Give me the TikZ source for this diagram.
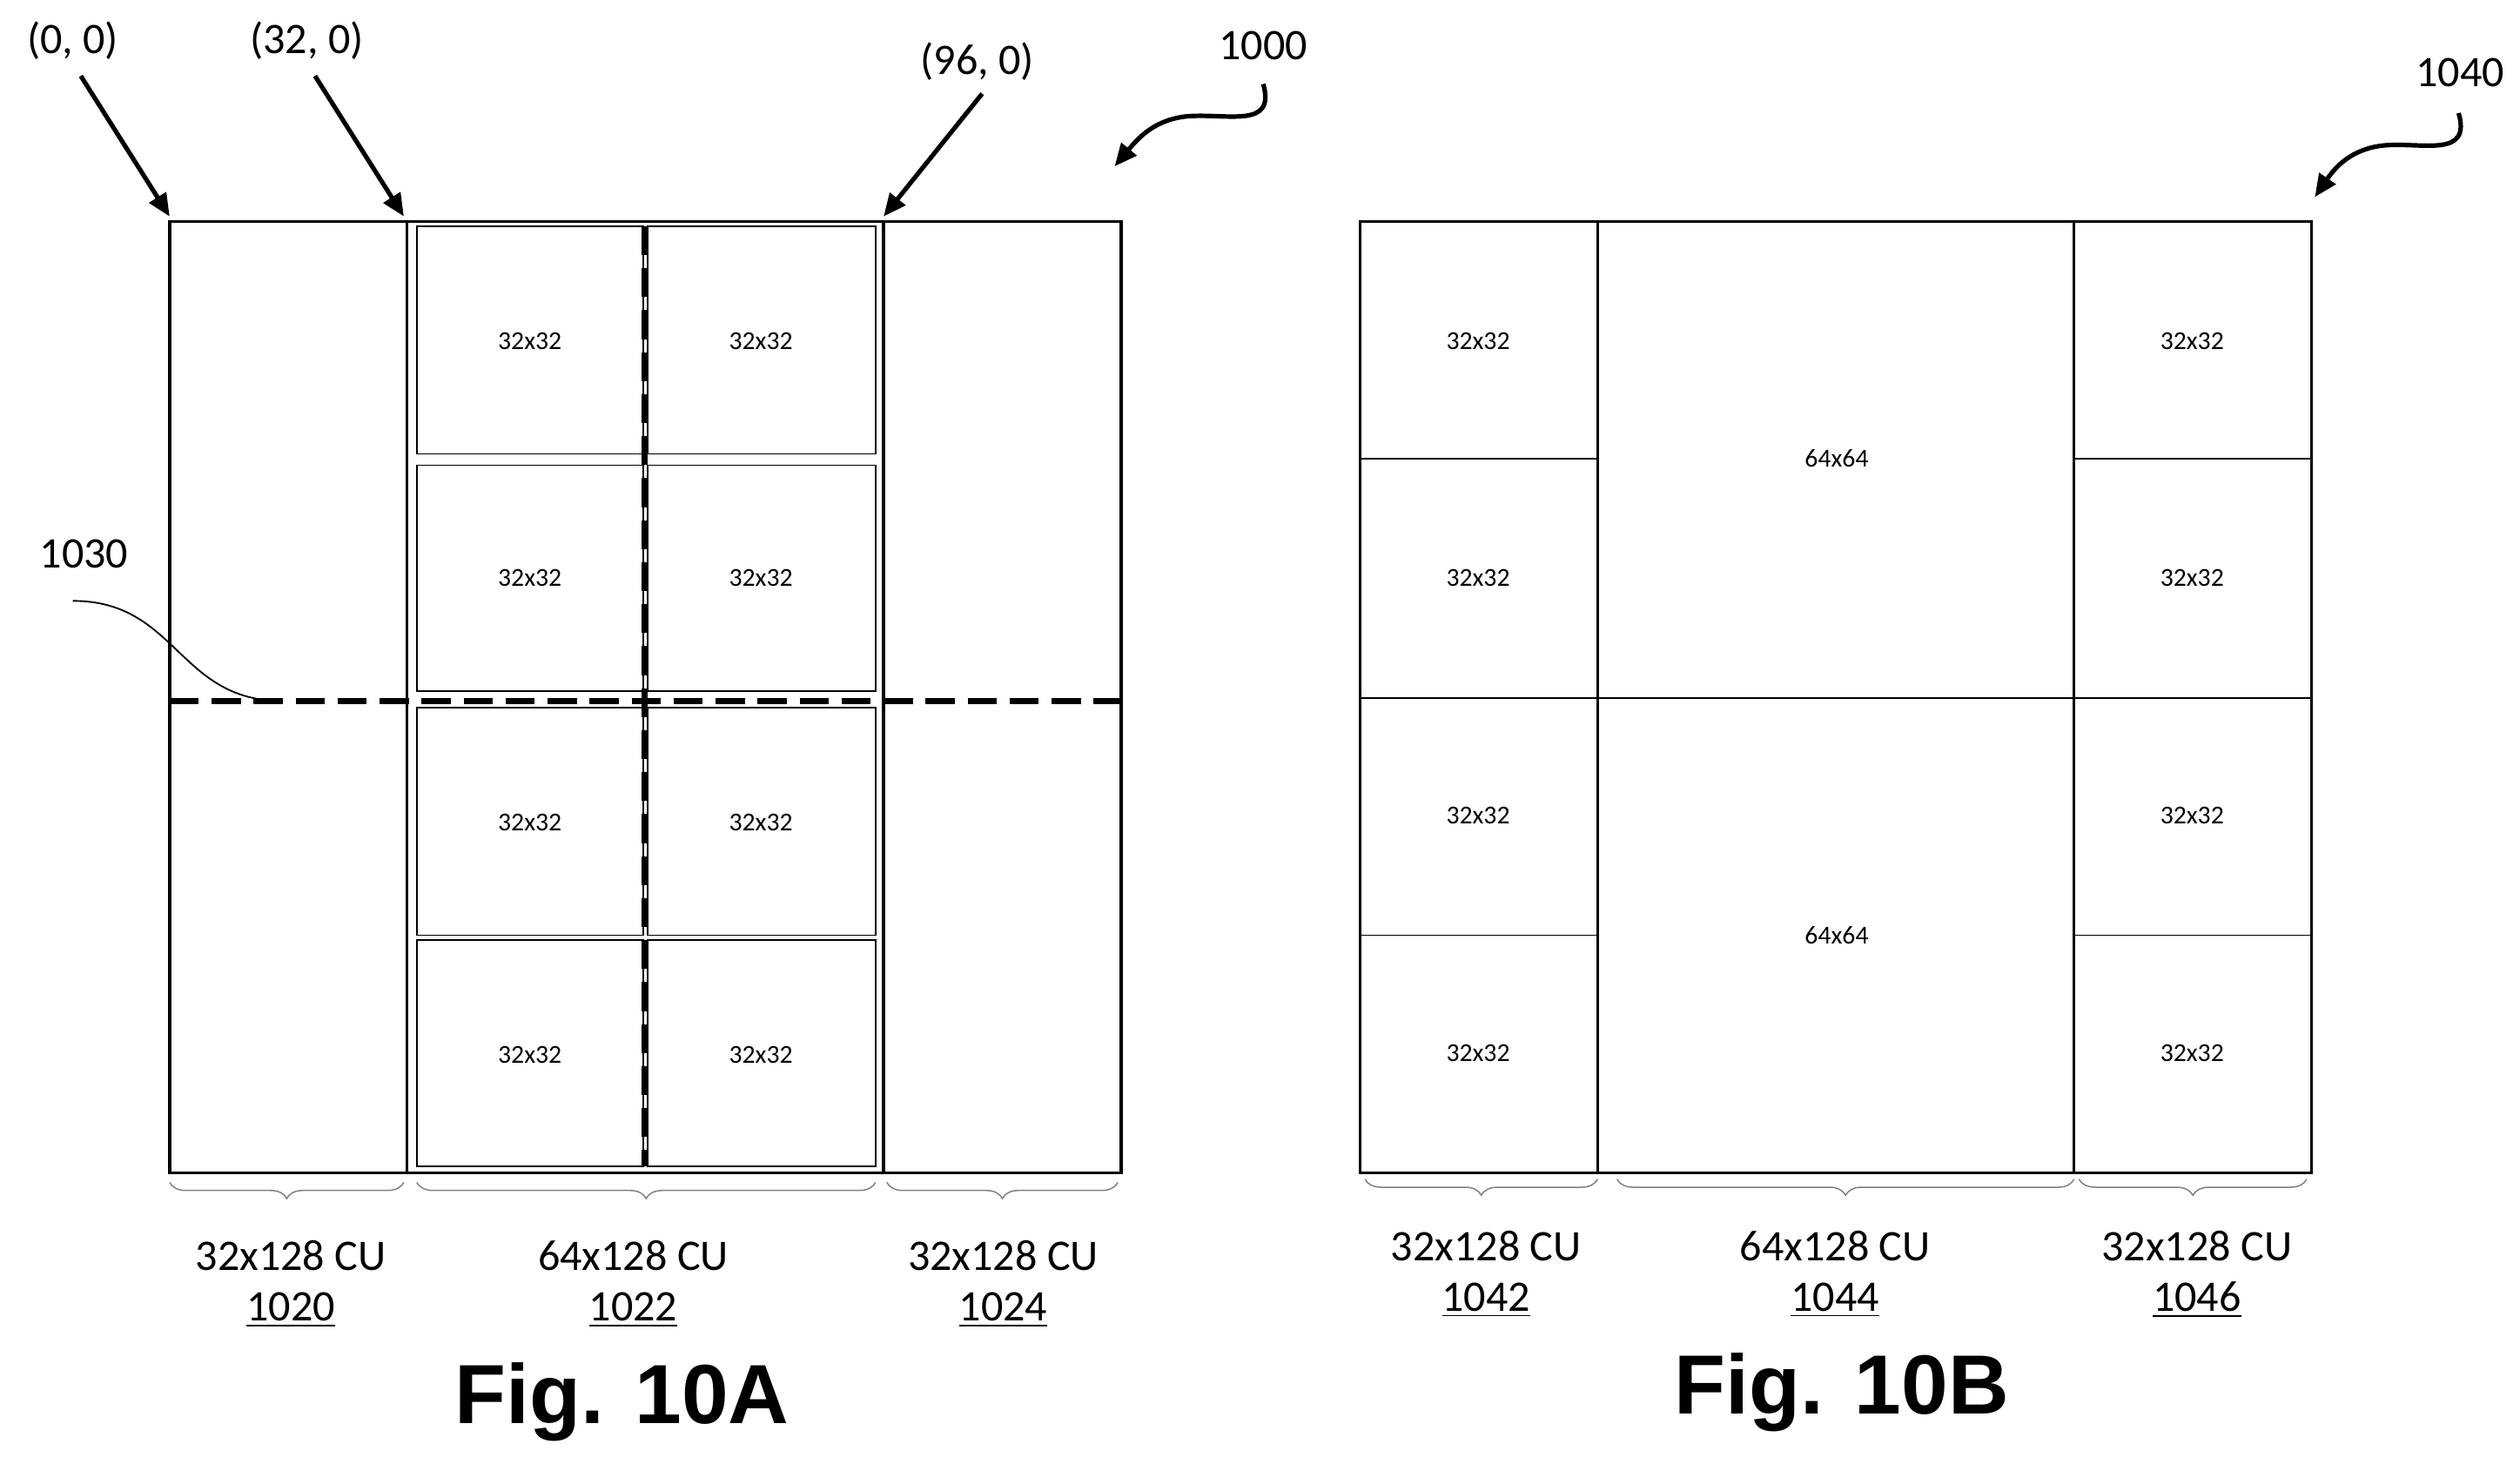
\documentclass[tikz,border=0pt]{standalone}
\usepackage{fontspec}
\setmainfont{Carlito}
\newfontfamily\figf{Liberation Sans}
\usetikzlibrary{decorations.pathreplacing,arrows.meta}
\begin{document}
\begin{tikzpicture}[x=0.5pt,y=-0.5pt,
  box/.style={draw,line width=0.9pt},
  thin/.style={draw,line width=0.5pt},
  dsh/.style={line width=2pt,dash pattern=on 9pt off 4pt},
  sm/.style={font=\fontsize{8}{9}\selectfont},
  lb/.style={font=\fontsize{13.5}{15.5}\selectfont,align=center},
  br/.style={decorate,decoration={brace,mirror,amplitude=5pt},line width=0.4pt,gray},
  arr/.style={-{Triangle[length=7pt,width=6pt]},line width=1.4pt},
  fig/.style={font=\figf\bfseries\fontsize{26}{28}\selectfont}]
\useasboundingbox (0,0) rectangle (1560,906);
% Fig A
\draw[box] (105,137) rectangle (694,726);
\draw[box] (252,137)--(252,726) (547,137)--(547,726);
\foreach \xa/\xb/\cx in {258/398/328,401/542/471}
 \foreach \ya/\yb/\cy in {140/281/211,288/428/358,438/579/509,582/722/653}
 {\draw[thin] (\xa,\ya) rectangle (\xb,\yb); \node[sm] at (\cx,\cy) {32x32};}
\draw[dsh] (399,140)--(399,722);
\draw[dsh] (105,434)--(694,434);
\node[lb] (l1030) at (52,343) {1030};
\coordinate (c1030) at (175,434);
\draw[line width=0.5pt] (45,372) .. controls (110,372) and (110,434) .. (c1030);
\node[lb] (o0) at (45,25) {(0, 0)};
\node[lb] (o32) at (190,25) {(32, 0)};
\node[lb] (o96) at (605,38) {(96, 0)};
\node[lb] (n1000) at (782,28) {1000};
\coordinate (p0) at (105,134); \coordinate (p32) at (250,134); \coordinate (p96) at (547,134);
\coordinate (q1000) at (690,103);
\draw[arr] (50,47)--(p0);
\draw[arr] (195,47)--(p32);
\draw[arr] (608,58)--(p96);
\draw[arr] (782,52) .. controls (790,80) and (760,70) .. (735,72) .. controls (715,74) and (705,85) .. (q1000);
\draw[br] (105,732)--(250,732);
\draw[br] (258,732)--(542,732);
\draw[br] (549,732)--(692,732);
\node[lb] (a1) at (180,795) {32x128 CU\\\underline{1020}};
\node[lb] (a2) at (392,795) {64x128 CU\\\underline{1022}};
\node[lb] (a3) at (621,795) {32x128 CU\\\underline{1024}};
\node[fig] (fa) at (385,868) {Fig. 10A};
% Fig B
\draw[box] (842,137) rectangle (1431,726);
\draw[box] (989,137)--(989,726) (1284,137)--(1284,726);
\draw[thin] (842,284)--(989,284) (842,432)--(989,432) (842,579)--(989,579);
\draw[thin] (1284,284)--(1431,284) (1284,432)--(1431,432) (1284,579)--(1431,579);
\draw[thin] (989,432)--(1284,432);
\foreach \cy in {211,358,505,652} {\node[sm] at (915,\cy) {32x32}; \node[sm] at (1357,\cy) {32x32};}
\node[sm] at (1137,284) {64x64};
\node[sm] at (1137,579) {64x64};
\node[lb] (n1040) at (1523,45) {1040};
\coordinate (q1040) at (1433,122);
\draw[arr] (1522,70) .. controls (1530,98) and (1500,88) .. (1476,90) .. controls (1456,92) and (1446,103) .. (q1040);
\draw[br] (845,730)--(989,730);
\draw[br] (1001,730)--(1284,730);
\draw[br] (1287,730)--(1428,730);
\node[lb] (b1) at (920,789) {32x128 CU\\\underline{1042}};
\node[lb] (b2) at (1136,789) {64x128 CU\\\underline{1044}};
\node[lb] (b3) at (1360,789) {32x128 CU\\\underline{1046}};
\node[fig] (fb) at (1140,862) {Fig. 10B};
\end{tikzpicture}
\end{document}
